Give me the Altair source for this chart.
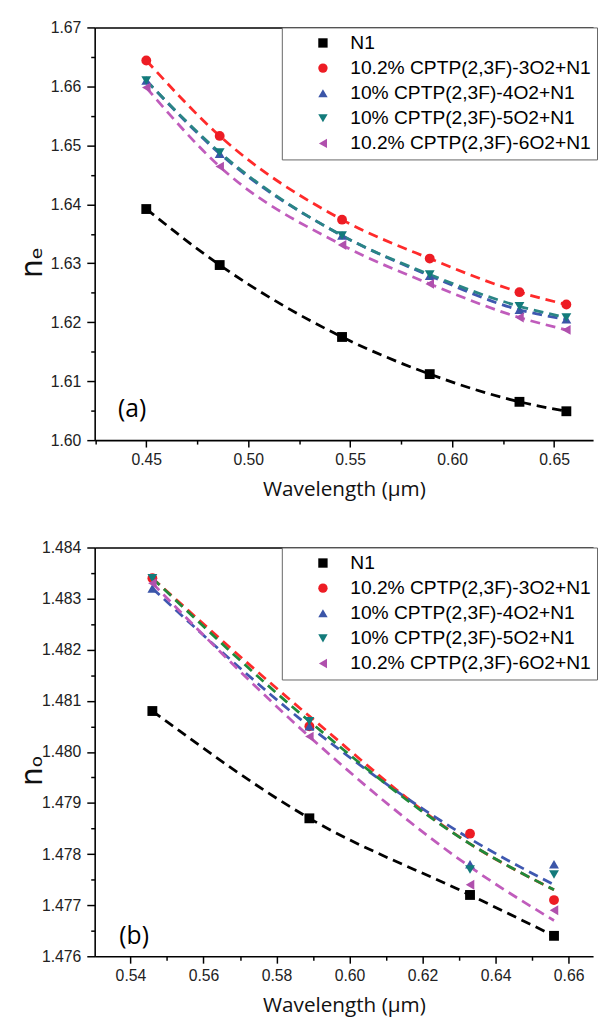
import altair as alt
import pandas as pd

series = ["N1", "10.2% CPTP(2,3F)-3O2+N1", "10% CPTP(2,3F)-4O2+N1",
          "10% CPTP(2,3F)-5O2+N1", "10.2% CPTP(2,3F)-6O2+N1"]
shapes = ["square", "circle", "triangle-up", "triangle-down", "triangle-left"]
marker_colors = ["#000000", "#ed1c24", "#3b55a8", "#137b7b", "#b050ad"]
line_colors_a = ["#000000", "#ff2a2a", "#3f58b0", "#2a8585", "#c05cbc"]
line_colors_b = ["#000000", "#ff2a2a", "#3f58b0", "#1f8a3a", "#c05cbc"]

# panel (a): extraordinary index
wl_a = [0.45, 0.486, 0.546, 0.589, 0.633, 0.656]
ne_N1 = [1.6392, 1.6297, 1.6175, 1.6112, 1.6065, 1.6049]
ne_3O2 = [1.6644, 1.6516, 1.6374, 1.6308, 1.6251, 1.6230]
ne_4O2 = [1.6610, 1.6486, 1.6347, 1.6279, 1.6221, 1.6205]
ne_5O2 = [1.6610, 1.6488, 1.6347, 1.6281, 1.6227, 1.6208]
ne_6O2 = [1.6598, 1.6464, 1.6331, 1.6265, 1.6208, 1.6187]

# panel (b): ordinary index (measured points and fitted curves)
wl_b = [0.546, 0.589, 0.633, 0.656]
no_N1 = [1.4808, 1.4787, 1.4772, 1.4764]
no_3O2 = [1.4834, 1.4805, 1.4784, 1.4771]
no_4O2 = [1.4832, 1.4805, 1.4778, 1.4778]
no_5O2 = [1.4834, 1.4806, 1.4777, 1.4776]
no_6O2 = [1.4833, 1.4803, 1.4774, 1.4769]
fit_N1 = [1.4808, 1.4787, 1.4772, 1.4764]
fit_3O2 = [1.4834, 1.4807, 1.4782, 1.4773]
fit_4O2 = [1.4832, 1.4805, 1.4783, 1.4774]
fit_5O2 = [1.4834, 1.4806, 1.4782, 1.4773]
fit_6O2 = [1.4833, 1.4803, 1.47775, 1.4767]

xa_ticks = [0.425, 0.45, 0.475, 0.5, 0.525, 0.55, 0.575, 0.6, 0.625, 0.65]
ya_ticks = [1.6, 1.605, 1.61, 1.615, 1.62, 1.625, 1.63, 1.635, 1.64, 1.645,
            1.65, 1.655, 1.66, 1.665, 1.67]
xb_ticks = [0.54, 0.55, 0.56, 0.57, 0.58, 0.59, 0.6, 0.61, 0.62, 0.63, 0.64,
            0.65, 0.66]
yb_ticks = [1.476, 1.4765, 1.477, 1.4775, 1.478, 1.4785, 1.479, 1.4795, 1.48,
            1.4805, 1.481, 1.4815, 1.482, 1.4825, 1.483, 1.4835, 1.484]


def long_df(wl, cols, lcolors):
    rows = []
    for i, (name, vals) in enumerate(zip(series, cols)):
        for w, v in zip(wl, vals):
            rows.append({"wl": w, "n": v, "series": name, "order": i,
                         "lc": lcolors[i]})
    return pd.DataFrame(rows)


def axis_common(**kw):
    base = dict(domainColor="black", domainWidth=1.6, tickColor="black",
                tickWidth=1.5, labelFont="Liberation Sans", labelFontSize=16,
                labelColor="#222", grid=False, labelOverlap=False)
    base.update(kw)
    return alt.Axis(**base)


def major_test(mult):
    return f"abs(datum.value*{mult} - round(datum.value*{mult})) < 1e-6"


def panel(pts, fits, xdom, ydom, xticks, xmult, xfmt, yticks, ymult, yfmt,
          ytitle, ytitle_y, height, label, label_x, label_y):
    xt = major_test(xmult)
    yt = major_test(ymult)
    x_axis = axis_common(
        orient="bottom", values=xticks,
        labelExpr=f"{xt} ? format(datum.value, '{xfmt}') : ''",
        tickSize={"condition": {"test": xt, "value": 7}, "value": 4},
        labelPadding=5, title="Wavelength (µm)", titleFont="Open Sans",
        titleFontSize=21, titleFontWeight="normal", titleColor="#111",
        titlePadding=11)
    y_axis = axis_common(
        orient="left", values=yticks,
        labelExpr=f"{yt} ? format(datum.value, '{yfmt}') : ''",
        tickSize={"condition": {"test": yt, "value": 8}, "value": 4},
        labelPadding=6, title=ytitle, titleFont="DejaVu Sans",
        titleFontSize=30, titleFontWeight="normal", titleColor="#111",
        titleX=-48, titleY=ytitle_y)
    xs = alt.Scale(domain=xdom, nice=False, zero=False)
    ys = alt.Scale(domain=ydom, nice=False, zero=False)

    lines = alt.Chart(fits).mark_line(
        strokeDash=[10, 6], strokeWidth=2.8, interpolate="monotone"
    ).encode(
        x=alt.X("wl:Q", scale=xs, axis=x_axis),
        y=alt.Y("n:Q", scale=ys, axis=y_axis),
        stroke=alt.Stroke("lc:N", scale=None),
        detail="series:N",
        order="wl:Q",
    )
    leg = alt.Legend(orient="none", legendX=190, legendY=0, title=None,
                     labelFont="Liberation Sans", labelFontSize=19.5,
                     labelColor="black", labelLimit=400, symbolSize=90,
                     symbolStrokeWidth=0, padding=6, rowPadding=4.5,
                     symbolOffset=26, labelOffset=18, strokeColor="#666",
                     fillColor="white")
    points = alt.Chart(pts).mark_point(filled=True, size=100, opacity=1).encode(
        x=alt.X("wl:Q", scale=xs, axis=alt.Axis(
            orient="top", labels=False, ticks=False, title=None,
            domainColor="black", domainWidth=1.6, grid=False)),
        y=alt.Y("n:Q", scale=ys, axis=None),
        fill=alt.Fill("series:N", sort=series,
                      scale=alt.Scale(domain=series, range=marker_colors),
                      legend=leg),
        shape=alt.Shape("series:N", sort=series,
                        scale=alt.Scale(domain=series, range=shapes),
                        legend=leg),
    )
    lab_df = pd.DataFrame({"wl": [label_x], "n": [label_y], "t": [label]})
    text = alt.Chart(lab_df).mark_text(
        font="Open Sans", fontSize=25, color="black", align="center",
        baseline="middle"
    ).encode(x=alt.X("wl:Q", scale=xs, axis=None),
             y=alt.Y("n:Q", scale=ys, axis=None), text="t:N")
    return alt.layer(lines, points, text).resolve_axis(
        x="independent", y="independent").properties(width=506, height=height)


pts_a = long_df(wl_a, [ne_N1, ne_3O2, ne_4O2, ne_5O2, ne_6O2], line_colors_a)
pts_b = long_df(wl_b, [no_N1, no_3O2, no_4O2, no_5O2, no_6O2], line_colors_b)
fit_b = long_df(wl_b, [fit_N1, fit_3O2, fit_4O2, fit_5O2, fit_6O2], line_colors_b)

chart_a = panel(pts_a, pts_a, [0.4247, 0.6691], [1.60, 1.67], xa_ticks, 20,
                ".2f", ya_ticks, 100, ".2f", "nₑ", 238, 419, "(a)", 0.4431,
                1.6052)
chart_b = panel(pts_b, fit_b, [0.5302, 0.6667], [1.476, 1.484], xb_ticks, 50,
                ".2f", yb_ticks, 1000, ".3f", "nₒ", 226, 415, "(b)", 0.541,
                1.4764)

chart = alt.vconcat(chart_a, chart_b, spacing=41).resolve_scale(
    x="independent", y="independent", fill="independent", shape="independent"
).resolve_legend(fill="independent", shape="independent").properties(
    padding={"left": 10, "top": 4, "right": 0, "bottom": 0}
).configure_view(stroke=None)

chart.save("out.html", embed_options={"renderer": "svg", "actions": False})
